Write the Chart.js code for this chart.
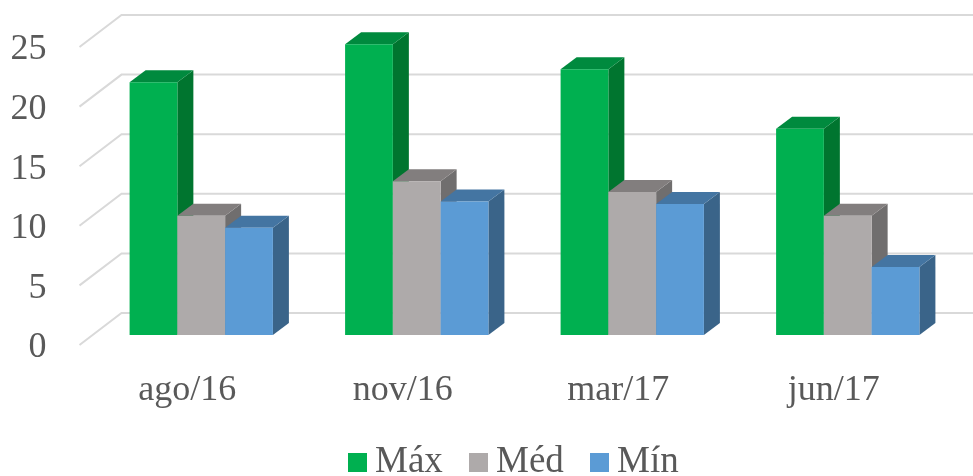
<!DOCTYPE html>
<html>
<head>
<meta charset="utf-8">
<title>Máx Méd Mín</title>
<script src="https://cdn.jsdelivr.net/npm/chart.js@4"></script>
<style>
    html, body { margin: 0; padding: 0; background: #fff; }
    #wrap { width: 973px; height: 476px; }
</style>
</head>
<body>
<div id="wrap"><canvas id="chart"></canvas></div>
<script>
const categories = ['ago/16', 'nov/16', 'mar/17', 'jun/17'];
const maxValues = [21.2, 24.4, 22.3, 17.3];
const medValues = [10, 12.9, 12, 10];
const minValues = [9, 11.2, 11, 5.7];
const yTicks = [0, 5, 10, 15, 20, 25];

const TEXT = '#595959';
const FONT = '"Liberation Serif", "Times New Roman", serif';
const GRID = '#d9d9d9';

// extrusion of one bar, and of the floor/walls
const BAR_DX = 16, BAR_DY = -12;
const WALL_BACK_DX = 28, WALL_BACK_DY = -22;
const WALL_FRONT_DX = -14, WALL_FRONT_DY = 10;

function face(ctx, pts, color) {
    ctx.beginPath();
    ctx.moveTo(pts[0][0], pts[0][1]);
    pts.slice(1).forEach(p => ctx.lineTo(p[0], p[1]));
    ctx.closePath();
    ctx.fillStyle = color;
    ctx.fill();
}

const bars3d = {
    id: 'bars3d',
    // walls and gridlines behind the bars
    beforeDatasetsDraw(chart) {
        const ctx = chart.ctx, y = chart.scales.y, area = chart.chartArea;
        ctx.save();
        ctx.strokeStyle = GRID;
        ctx.lineWidth = 2;
        yTicks.forEach(t => {
            const py = y.getPixelForValue(t);
            ctx.beginPath();
            ctx.moveTo(area.left + WALL_FRONT_DX, py + WALL_FRONT_DY);
            ctx.lineTo(area.left + WALL_BACK_DX, py + WALL_BACK_DY);
            ctx.lineTo(chart.width, py + WALL_BACK_DY);
            ctx.stroke();
        });
        ctx.restore();
    },
    // the library paints right-hand datasets first, the 3d look needs left to right
    beforeDatasetDraw() {
        return false;
    },
    afterDatasetsDraw(chart) {
        const ctx = chart.ctx;
        const base = chart.scales.y.getPixelForValue(0);
        chart.data.datasets.forEach((ds, i) => {
            const meta = chart.getDatasetMeta(i);
            meta.data.forEach(bar => {
                const l = bar.x - bar.width / 2, r = bar.x + bar.width / 2, t = bar.y;
                face(ctx, [[r, t], [r + BAR_DX, t + BAR_DY], [r + BAR_DX, base + BAR_DY], [r, base]], ds.sideColor);
                face(ctx, [[l, t], [l + BAR_DX, t + BAR_DY], [r + BAR_DX, t + BAR_DY], [r, t]], ds.topColor);
            });
            meta.controller.draw();
        });
    },
    // legend: the built-in one has a fixed wide gap between box and text
    afterDraw(chart) {
        const ctx = chart.ctx;
        ctx.save();
        ctx.font = '37px ' + FONT;
        ctx.textBaseline = 'alphabetic';
        ctx.textAlign = 'left';
        let x = 348;
        chart.data.datasets.forEach(ds => {
            ctx.fillStyle = ds.backgroundColor;
            ctx.fillRect(x, 453, 19, 19);
            ctx.fillStyle = TEXT;
            ctx.fillText(ds.label, x + 27, 472);
            x += 121;
        });
        ctx.restore();
    }
};

new Chart(document.getElementById('chart'), {
    type: 'bar',
    data: {
        labels: categories,
        datasets: [
            { label: 'Máx', data: maxValues, backgroundColor: '#00b050', sideColor: '#00752f', topColor: '#008a3e' },
            { label: 'Méd', data: medValues, backgroundColor: '#aeaaaa', sideColor: '#706e6e', topColor: '#827e7e' },
            { label: 'Mín', data: minValues, backgroundColor: '#5b9bd5', sideColor: '#3a6489', topColor: '#4475a2' }
        ]
    },
    options: {
        responsive: true,
        maintainAspectRatio: false,
        animation: false,
        layout: { padding: { top: 37, right: 17.5, left: 0, bottom: 0 } },
        plugins: { legend: { display: false }, tooltip: { enabled: false } },
        datasets: { bar: { categoryPercentage: 0.665, barPercentage: 1 } },
        scales: {
            x: {
                afterFit(scale) {
                    scale.height = 141;
                    scale.paddingLeft = 0;
                    scale.paddingRight = 0;
                },
                grid: { display: false },
                border: { display: false },
                ticks: {
                    color: TEXT,
                    font: { family: FONT, size: 36 },
                    padding: 26,
                    labelOffset: -14,
                    maxRotation: 0,
                    autoSkip: false
                }
            },
            y: {
                min: 0,
                max: 25,
                afterFit(scale) {
                    scale.width = 93.5;
                    scale.paddingTop = 0;
                    scale.paddingBottom = 0;
                },
                afterBuildTicks(scale) { scale.ticks = yTicks.map(v => ({ value: v })); },
                grid: { display: false },
                border: { display: false },
                ticks: {
                    color: TEXT,
                    font: { family: FONT, size: 36 },
                    padding: 39,
                    labelOffset: 13
                }
            }
        }
    },
    plugins: [bars3d]
});
</script>
</body>
</html>
